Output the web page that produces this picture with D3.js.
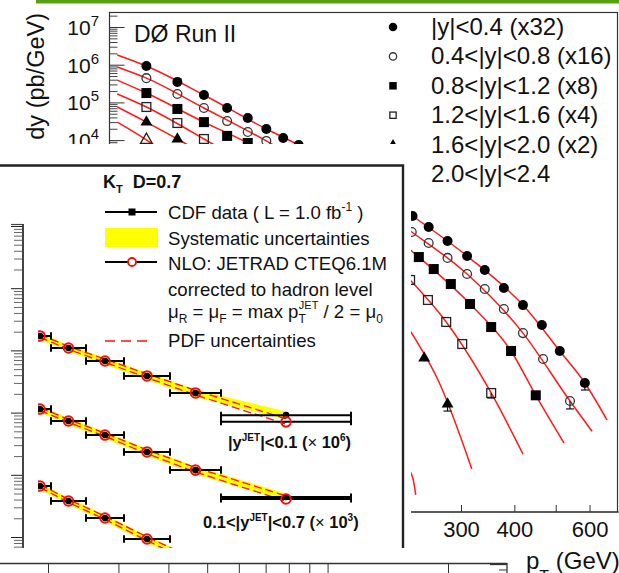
<!DOCTYPE html>
<html><head><meta charset="utf-8">
<script src="https://cdn.jsdelivr.net/npm/d3@7/dist/d3.min.js"></script>
<style>
html,body{margin:0;padding:0;background:#fff;overflow:hidden}
svg{display:block}
text{font-family:"Liberation Sans",Arial,Helvetica,sans-serif}
</style></head><body>
<svg id="c" width="619" height="573" xmlns="http://www.w3.org/2000/svg"></svg>
<script>
// ================= DØ Run II (background figure) =================
const d0Labels = ["|y|<0.4 (x32)","0.4<|y|<0.8 (x16)","0.8<|y|<1.2 (x8)","1.2<|y|<1.6 (x4)","1.6<|y|<2.0 (x2)","2.0<|y|<2.4"];
const d0Markers = ["circle","circleOpen","square","squareOpen","triangle","triangleOpen"];

const d0Pt1 = [55,65,75,85,95,105,115,125,231,252,279,310,341,378,419,464,511,585];
const d0Val1 = [9.2e5,3.5e5,1.57e5,7.1e4,3.85e4,1.97e4,1.14e4,7.4e3,97,49.5,21.1,8.4,3.6,1.19,0.42,0.124,0.0255,0.0036];
const d0Pt2 = [55,65,75,85,95,105,230,252,279,310,341,378,419,467,540];
const d0Val2 = [4.4e5,1.67e5,7.1e4,3.2e4,1.64e4,9.5e3,36.5,18.7,7.5,2.8,1.12,0.33,0.076,0.0156,0.0012];
const d0Pt3 = [55,65,75,85,95,239,259,284,315,353,393,449];
const d0Val3 = [1.77e5,6.7e4,3.0e4,1.29e4,8.4e3,7.9,3.8,1.52,0.45,0.11,0.0255,0.0017];
const d0Pt4 = [55,65,75,228,251,277,302,353];
const d0Val4 = [7.55e4,2.84e4,1.07e4,1.95,0.574,0.150,0.039,0.00196];
const d0Pt5 = [55,65,246,279];
const d0Val5 = [3.0e4,1.07e4,0.0166,0.0010];
const d0Pt6 = [55];
const d0Val6 = [1.01e4];

// lower ends of the visible vertical error bars
const d0ErrSeries = [0,1,3,4];
const d0ErrPt = [585,540,353,279];
const d0ErrVal = [0.0036,0.0012,0.00196,0.0010];
const d0ErrLo = [0.00235,7.4e-4,1.44e-3,6.5e-4];

// NLO theory curves
const d0ThPt1 = [47,55,75,105,125,231,310,419,511,585,659];
const d0ThVal1 = [1.81e6,9.2e5,1.57e5,1.97e4,7.4e3,97,8.4,0.42,0.0255,0.0036,3.8e-4];
const d0ThPt2 = [47,55,75,105,230,310,419,540,608];
const d0ThVal2 = [8.7e5,4.4e5,7.1e4,9.5e3,36.5,2.8,0.076,0.0012,1.9e-4];
const d0ThPt3 = [47,55,75,95,239,315,393,449,523];
const d0ThVal3 = [3.9e5,1.77e5,3.0e4,8.4e3,7.9,0.45,0.0255,0.0017,9.2e-5];
const d0ThPt4 = [47,55,75,228,277,353,419];
const d0ThVal4 = [1.67e5,7.55e4,1.07e4,1.95,0.15,0.00196,4.7e-5];
const d0ThPt5 = [47,55,65,246,265,318];
const d0ThVal5 = [7.55e4,3.0e4,1.07e4,0.0212,0.00434,1.89e-5];
const d0ThPt6 = [47,55,231,235];
const d0ThVal6 = [3.0e4,1.01e4,1.16e-5,3.9e-6];

const d0XTicks = [200,300,400,500,600];
const d0XTickLabels = ["200","300","400","","600"];
const d0Decades = [1e-6,1e-5,1e-4,1e-3,1e-2,1e-1,1,10,100,1e3,1e4,1e5,1e6,1e7];
const d0YTickLabels = [1e4,1e5,1e6,1e7];

// ================= CDF k_T overlay =================
const cdfXLo = [300,322,357,395,441,492];
const cdfXHi = [322,357,395,441,492,622];
const cdfXc  = [311,339.5,376,418,466.5,557];
const cdfData1 = [1706,1093,676,388,207,91];
const cdfNlo1  = [1706,1093,676,388,207,71];
const cdfData2 = [114,73.3,43.6,23.3,11.9,4.40];
const cdfNlo2  = [114,73.3,43.6,23.3,11.9,4.08];
const cdfData3 = [6.61,3.79,2.02,0.929,0.40];
const cdfNlo3  = [6.61,3.79,2.02,0.929,0.40];
const cdfSys   = [0.12,0.12,0.12,0.13,0.14,0.14];
const cdfPdfUp = [0.06,0.06,0.07,0.08,0.10,0.12];
const cdfPdfDn = [0.05,0.05,0.05,0.06,0.07,0.08];
const cdfYMajors = [1,10,100,1e3,1e4,1e5];
const cdfDecadesForMinor = [0.1,1,10,100,1e3,1e4];

// bottom strip axis
const stripTicks = [20,30,40,50,60,70,80,90,100,200];

// ================= drawing =================
const svg = d3.select("#c");
const F = '"Liberation Sans", Arial, Helvetica, sans-serif';
const defs = svg.append("defs");

// green top bar
svg.append("rect").attr("x",36).attr("y",0).attr("width",583).attr("height",3.5).attr("fill","#5a9e12");

// ---------- DØ plot ----------
const xD = d3.scaleLog().domain([300,3000]).range([461,888]);
const yD = d3.scaleLog().domain([1e7,1]).range([27,27+7*37.7]);
const d0 = svg.append("g");
defs.append("clipPath").attr("id","clipD0").append("rect").attr("x",109).attr("y",12).attr("width",509).attr("height",500);

d0.append("rect").attr("x",109.5).attr("y",12.5).attr("width",508).attr("height",499.5)
  .attr("fill","none").attr("stroke","#333").attr("stroke-width",1.2);

// y axis ticks (inside)
const d0Minor = [];
d0Decades.forEach(d => [2,3,4,5,6,7,8,9].forEach(k => { const v=k*d; const p=yD(v); if (p>12 && p<512) d0Minor.push(v); }));
const d0Maj = d0Decades.filter(d => yD(d)>12 && yD(d)<512);
d0.append("g").attr("transform","translate(109.5,0)").attr("color","#333")
  .call(d3.axisRight(yD).tickValues(d0Maj).tickSize(15).tickFormat(""))
  .call(g=>g.select(".domain").remove());
d0.append("g").attr("transform","translate(109.5,0)").attr("color","#444")
  .call(d3.axisRight(yD).tickValues(d0Minor).tickSize(8).tickFormat(""))
  .call(g=>g.select(".domain").remove());

const yl = d0.selectAll(".ylab").data(d0YTickLabels).enter().append("text")
  .attr("x",99).attr("y",d=>yD(d)+8).attr("text-anchor","end").attr("font-size",21).attr("fill","#111");
yl.append("tspan").text("10");
yl.append("tspan").attr("font-size",15).attr("dy",-9).text(d=>Math.round(Math.log10(d)));

// y title
const yt = d0.append("text").attr("transform","translate(44,13) rotate(-90)").attr("text-anchor","end")
  .attr("font-size",23.5).attr("fill","#111");
yt.append("tspan").text("d\u00B2\u03C3/dp");
yt.append("tspan").attr("font-size",15).attr("dy",5).text("T");
yt.append("tspan").attr("dy",-5).text(" dy (pb/GeV)");

// x axis
const xa = d0.append("g").attr("transform","translate(0,512)").attr("color","#333")
  .call(d3.axisBottom(xD).tickValues(d0XTicks).tickSize(-7).tickPadding(9).tickFormat((d,i)=>d0XTickLabels[i]))
  .call(g=>g.select(".domain").remove());
xa.attr("font-size",22).attr("font-family",F);
xa.selectAll("text").attr("fill","#111");
d0.append("line").attr("x1",109).attr("x2",619).attr("y1",512).attr("y2",512).attr("stroke","#333").attr("stroke-width",1.2);

const xt = d0.append("text").attr("x",526).attr("y",569).attr("font-size",24).attr("fill","#111");
xt.append("tspan").text("p");
xt.append("tspan").attr("font-size",16).attr("dy",13).text("T");
xt.append("tspan").attr("dy",-13).text(" (GeV)");

// "DØ Run II"
d0.append("text").attr("x",134).attr("y",42).attr("font-size",23).attr("fill","#111").text("D\u00D8 Run II");

// theory curves
const plotArea = d0.append("g").attr("clip-path","url(#clipD0)");
const thPts = [[d0ThPt1,d0ThVal1],[d0ThPt2,d0ThVal2],[d0ThPt3,d0ThVal3],[d0ThPt4,d0ThVal4],[d0ThPt5,d0ThVal5],[d0ThPt6,d0ThVal6]];
const lineD = d3.line().x(d=>xD(d[0])).y(d=>yD(d[1])).curve(d3.curveMonotoneX);
thPts.forEach(([p,v]) => {
  plotArea.append("path").attr("d", lineD(p.map((q,i)=>[q,v[i]])))
    .attr("fill","none").attr("stroke","#ff1a1a").attr("stroke-width",1.5);
});

function drawMarker(g, type, cx, cy, s) {
  if (type==="circle") g.append("circle").attr("cx",cx).attr("cy",cy).attr("r",s/2).attr("fill","#000");
  else if (type==="circleOpen") g.append("circle").attr("cx",cx).attr("cy",cy).attr("r",s/2-0.6).attr("fill","none").attr("stroke","#333").attr("stroke-width",1.3);
  else if (type==="square") g.append("rect").attr("x",cx-s/2).attr("y",cy-s/2).attr("width",s).attr("height",s).attr("fill","#000");
  else if (type==="squareOpen") g.append("rect").attr("x",cx-s/2+0.6).attr("y",cy-s/2+0.6).attr("width",s-1.2).attr("height",s-1.2).attr("fill","none").attr("stroke","#222").attr("stroke-width",1.3);
  else {
    const path = d3.symbol(d3.symbolTriangle, s*s*0.5)();
    const t = g.append("path").attr("d",path).attr("transform",`translate(${cx},${cy})`);
    if (type==="triangle") t.attr("fill","#000"); else t.attr("fill","none").attr("stroke","#222").attr("stroke-width",1.3);
  }
}

// error bars
d0ErrSeries.forEach((s,i) => {
  const x = xD(d0ErrPt[i]), y0 = yD(d0ErrVal[i]), y1 = yD(d0ErrLo[i]);
  plotArea.append("line").attr("x1",x).attr("x2",x).attr("y1",y0).attr("y2",y1).attr("stroke","#111").attr("stroke-width",1.2);
  plotArea.append("line").attr("x1",x-4).attr("x2",x+4).attr("y1",y1).attr("y2",y1).attr("stroke","#111").attr("stroke-width",1.2);
});

const dPts = [[d0Pt1,d0Val1],[d0Pt2,d0Val2],[d0Pt3,d0Val3],[d0Pt4,d0Val4],[d0Pt5,d0Val5],[d0Pt6,d0Val6]];
dPts.forEach(([p,v],k) => {
  p.forEach((q,i) => drawMarker(plotArea, d0Markers[k], xD(q), yD(v[i]), d0Markers[k].startsWith("tri")?11:10));
});

// legend
const legBase = [35,64.4,93.8,123.2,152.6,182];
d0Labels.forEach((lab,i) => {
  drawMarker(d0, d0Markers[i], 393, legBase[i]-8, d0Markers[i].startsWith("square")?7.5:(d0Markers[i].startsWith("tri")?9:8.5));
  d0.append("text").attr("x",431).attr("y",legBase[i]).attr("font-size",24).attr("fill","#111").text(lab);
});

// ---------- CDF overlay ----------
const ov = svg.append("g");
ov.append("rect").attr("x",0).attr("y",144).attr("width",411).attr("height",404).attr("fill","#fff");
ov.append("path").attr("d","M0,165.5H403V548").attr("fill","none").attr("stroke","#222").attr("stroke-width",2.4);

const xC = d3.scaleLinear().domain([300,622]).range([29,351]);
const yC = d3.scaleLog().domain([1,1e5]).range([537,226]);

// left log axis
const cMinor = [];
cdfDecadesForMinor.forEach(d => [2,3,4,5,6,7,8,9].forEach(k => { const v=k*d; const p=yC(v); if (p>225 && p<548) cMinor.push(v); }));
ov.append("g").attr("transform","translate(23,0)").attr("color","#222")
  .call(d3.axisLeft(yC).tickValues(cdfYMajors).tickSize(12).tickFormat(""))
  .call(g=>g.select(".domain").remove());
ov.append("g").attr("transform","translate(23,0)").attr("color","#666")
  .call(d3.axisLeft(yC).tickValues(cMinor).tickSize(9).tickFormat(""))
  .call(g=>g.select(".domain").remove());
ov.append("line").attr("x1",23).attr("x2",23).attr("y1",224).attr("y2",548).attr("stroke","#444").attr("stroke-width",2);
ov.append("line").attr("x1",11).attr("x2",23).attr("y1",224.5).attr("y2",224.5).attr("stroke","#444").attr("stroke-width",1.2);

defs.append("clipPath").attr("id","clipC").append("rect").attr("x",38).attr("y",167).attr("width",364).attr("height",381);
const cg = ov.append("g").attr("clip-path","url(#clipC)");

const cdfSets = [[cdfData1,cdfNlo1],[cdfData2,cdfNlo2],[cdfData3,cdfNlo3]];
cdfSets.forEach(([dat,nlo]) => {
  const idx = d3.range(dat.length);
  const band = d3.area().x(i=>xC(cdfXc[i])).y0(i=>yC(dat[i]*(1-cdfSys[i]))).y1(i=>yC(dat[i]*(1+cdfSys[i])));
  cg.append("path").attr("d",band(idx)).attr("fill","#ffff00");
  const up = d3.line().x(i=>xC(cdfXc[i])).y(i=>yC(nlo[i]*(1+cdfPdfUp[i])));
  const dn = d3.line().x(i=>xC(cdfXc[i])).y(i=>yC(nlo[i]*(1-cdfPdfDn[i])));
  [up,dn].forEach(l => cg.append("path").attr("d",l(idx)).attr("fill","none").attr("stroke","#ff1010").attr("stroke-width",1.3).attr("stroke-dasharray","8,4"));
  [dat,nlo].forEach(vals => idx.forEach(i => {
    const y = yC(vals[i]), x0 = xC(cdfXLo[i]), x1 = xC(cdfXHi[i]);
    cg.append("line").attr("x1",x0).attr("x2",x1).attr("y1",y).attr("y2",y).attr("stroke","#000").attr("stroke-width",2);
    [x0,x1].forEach(x => cg.append("line").attr("x1",x).attr("x2",x).attr("y1",y-3.5).attr("y2",y+3.5).attr("stroke","#000").attr("stroke-width",2));
  }));
  idx.forEach(i => cg.append("circle").attr("cx",xC(cdfXc[i])).attr("cy",yC(dat[i])).attr("r",3.3).attr("fill","#000"));
  idx.forEach(i => cg.append("circle").attr("cx",xC(cdfXc[i])).attr("cy",yC(nlo[i])).attr("r",4.8).attr("fill","none").attr("stroke","#f01010").attr("stroke-width",2));
});

// series labels
function supLabel(x, y, parts) {
  const t = ov.append("text").attr("x",x).attr("y",y).attr("font-size",16.5).attr("font-weight","bold").attr("fill","#111");
  parts.forEach(p => {
    const s = t.append("tspan").text(p.t);
    if (p.dy) s.attr("dy",p.dy);
    if (p.fs) s.attr("font-size",p.fs);
    if (p.fw) s.attr("font-weight",p.fw);
  });
}
supLabel(228,448,[{t:"|y"},{t:"JET",fs:10,dy:-7},{t:"|<0.1 (",dy:7},{t:"\u00D7",fw:"normal"},{t:" 10"},{t:"6",fs:10,dy:-7},{t:")",dy:7}]);
supLabel(203,528,[{t:"0.1<|y"},{t:"JET",fs:10,dy:-7},{t:"|<0.7 (",dy:7},{t:"\u00D7",fw:"normal"},{t:" 10"},{t:"3",fs:10,dy:-7},{t:")",dy:7}]);

// legend
const kt = ov.append("text").attr("x",103).attr("y",188).attr("font-size",18).attr("font-weight","bold").attr("fill","#111");
kt.append("tspan").text("K");
kt.append("tspan").attr("font-size",11).attr("dy",5).text("T");
kt.append("tspan").attr("dy",-5).attr("dx",10).text("D=0.7");

const lb = [219,244.5,270,295.5,321,346.5];
const LF = 18.6;
// CDF data
ov.append("line").attr("x1",105).attr("x2",157).attr("y1",212).attr("y2",212).attr("stroke","#000").attr("stroke-width",2);
ov.append("rect").attr("x",128.5).attr("y",208.5).attr("width",7).attr("height",7).attr("fill","#000");
const t1 = ov.append("text").attr("x",168).attr("y",lb[0]).attr("font-size",LF).attr("fill","#111");
t1.append("tspan").text("CDF data ( L = 1.0 fb");
t1.append("tspan").attr("font-size",12).attr("dy",-8).text("-1");
t1.append("tspan").attr("dy",8).text(" )");
// systematic
ov.append("rect").attr("x",105).attr("y",228).attr("width",53).attr("height",19).attr("fill","#ffff00");
ov.append("text").attr("x",168).attr("y",lb[1]).attr("font-size",LF).attr("fill","#111").text("Systematic uncertainties");
// NLO
ov.append("line").attr("x1",105).attr("x2",157).attr("y1",262).attr("y2",262).attr("stroke","#000").attr("stroke-width",2);
ov.append("circle").attr("cx",132).attr("cy",262).attr("r",4).attr("fill","#fff").attr("stroke","#f01010").attr("stroke-width",1.8);
ov.append("text").attr("x",168).attr("y",lb[2]).attr("font-size",LF).attr("fill","#111").text("NLO: JETRAD CTEQ6.1M");
ov.append("text").attr("x",168).attr("y",lb[3]).attr("font-size",LF).attr("fill","#111").text("corrected to hadron level");
const mu = ov.append("text").attr("x",168).attr("y",lb[4]-3).attr("font-size",LF).attr("fill","#111");
mu.append("tspan").text("\u03BC");
mu.append("tspan").attr("font-size",12).attr("dy",5).text("R");
mu.append("tspan").attr("dy",-5).text(" = \u03BC");
mu.append("tspan").attr("font-size",12).attr("dy",5).text("F");
mu.append("tspan").attr("dy",-5).text(" = max p");
mu.append("tspan").attr("font-size",12).attr("dy",5).text("T");
mu.append("tspan").attr("font-size",11).attr("dy",-14).attr("dx",-7).text("JET");
mu.append("tspan").attr("dy",9).text(" / 2 = \u03BC");
mu.append("tspan").attr("font-size",12).attr("dy",5).text("0");
// PDF
ov.append("line").attr("x1",105).attr("x2",153).attr("y1",341).attr("y2",341).attr("stroke","#ff1010").attr("stroke-width",1.6).attr("stroke-dasharray","10,6");
ov.append("text").attr("x",168).attr("y",lb[5]).attr("font-size",LF).attr("fill","#111").text("PDF uncertainties");

// ---------- bottom strip axis ----------
const xS = d3.scaleLog().domain([20,200]).range([48,448]);
svg.append("g").attr("transform","translate(0,563.5)").attr("color","#333")
  .call(d3.axisBottom(xS).tickValues(stripTicks).tickSize(10).tickFormat(""))
  .call(g=>g.select(".domain").remove());
svg.append("line").attr("x1",0).attr("x2",507).attr("y1",563.5).attr("y2",563.5).attr("stroke","#333").attr("stroke-width",1.3);
svg.append("line").attr("x1",507).attr("x2",507).attr("y1",563).attr("y2",573).attr("stroke","#333").attr("stroke-width",1.3);
svg.append("line").attr("x1",490).attr("x2",507).attr("y1",564.5).attr("y2",564.5).attr("stroke","#333").attr("stroke-width",1.3);
svg.append("line").attr("x1",499).attr("x2",507).attr("y1",570).attr("y2",570).attr("stroke","#555").attr("stroke-width",1.2);
</script>
</body></html>
